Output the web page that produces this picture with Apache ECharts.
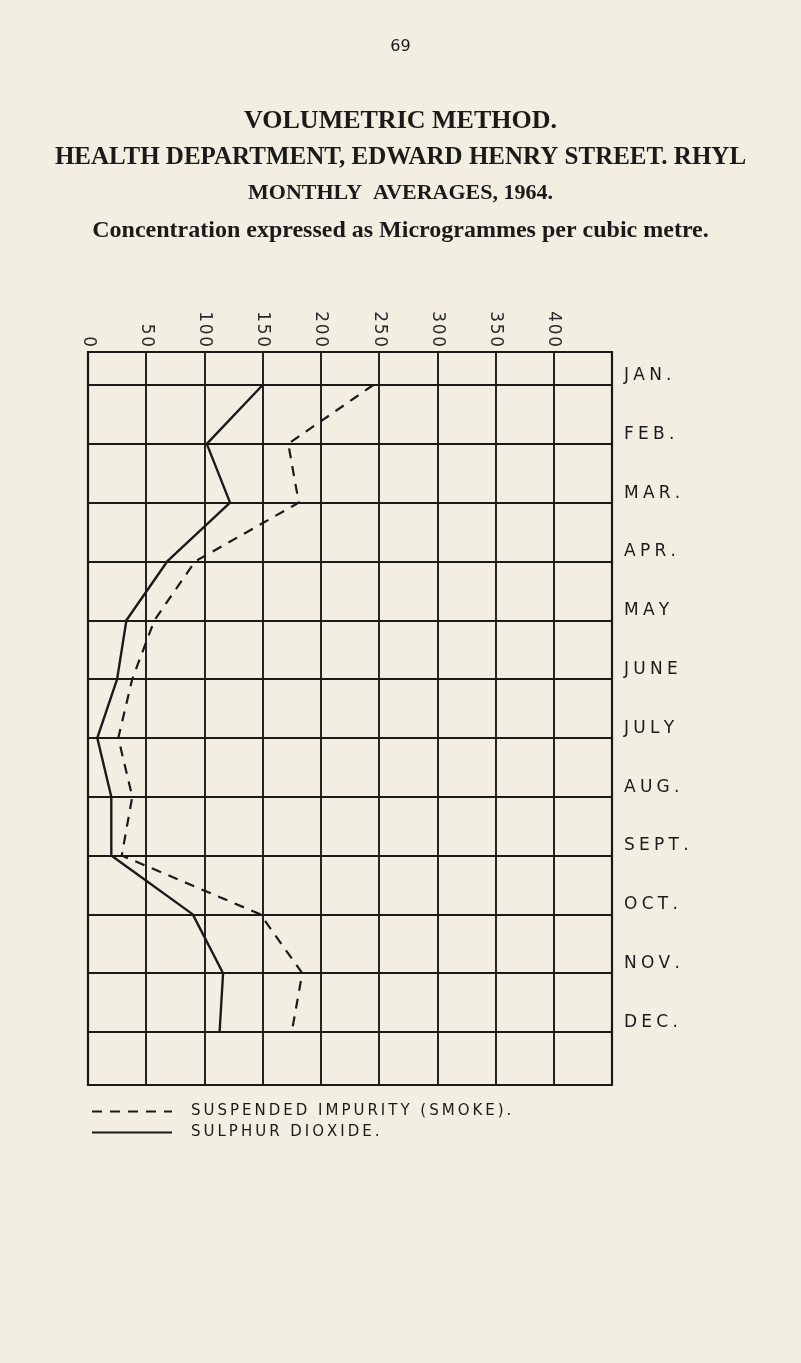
<!DOCTYPE html>
<html>
<head>
<meta charset="utf-8">
<script src="https://cdn.jsdelivr.net/npm/echarts@6/dist/echarts.min.js"></script>
<style>
html,body{margin:0;padding:0;background:#f2eee1;}
#chart{width:801px;height:1363px;}
</style>
</head>
<body>
<div id="chart"></div>
<script>
// ---- data (micrograms per cubic metre, monthly averages 1964) ----
const months = ['JAN.', 'FEB.', 'MAR.', 'APR.', 'MAY', 'JUNE', 'JULY', 'AUG.', 'SEPT.', 'OCT.', 'NOV.', 'DEC.'];
const smoke = [245, 172, 181, 92, 57, 38, 26, 38, 29, 148, 184, 175];
const sulphurDioxide = [150, 102, 122, 68, 33, 25, 8, 20, 20, 90, 116, 113];
const valueTicks = [0, 50, 100, 150, 200, 250, 300, 350, 400];
const seriesNames = ['SUSPENDED IMPURITY (SMOKE).', 'SULPHUR DIOXIDE.'];

const ink = '#1a1a1a';
const spaced = (s, sp) => s.split('').join(sp);
const chart = echarts.init(document.getElementById('chart'));

chart.setOption({
  backgroundColor: '#f2eee1',
  animation: false,
  title: [
    { text: '69', left: 'center', top: 34, textStyle: { fontFamily: 'DejaVu Sans', fontSize: 16, fontWeight: 'normal', color: ink } },
    { text: 'VOLUMETRIC METHOD.', left: 'center', top: 103, textStyle: { fontFamily: 'Liberation Serif', fontSize: 26, fontWeight: 'bold', color: ink } },
    { text: 'HEALTH DEPARTMENT, EDWARD HENRY STREET. RHYL', left: 'center', top: 140, textStyle: { fontFamily: 'Liberation Serif', fontSize: 25, fontWeight: 'bold', color: ink } },
    { text: 'MONTHLY  AVERAGES, 1964.', left: 'center', top: 177, textStyle: { fontFamily: 'Liberation Serif', fontSize: 22, fontWeight: 'bold', color: ink } },
    { text: 'Concentration expressed as Microgrammes per cubic metre.', left: 'center', top: 214, textStyle: { fontFamily: 'Liberation Serif', fontSize: 24, fontWeight: 'bold', color: ink } }
  ],
  legend: {
    orient: 'vertical',
    left: 86,
    top: 1099,
    itemWidth: 80,
    itemHeight: 12,
    itemGap: 6,
    itemStyle: { opacity: 0 },
    formatter: name => spaced(name, '\u2009'),
    textStyle: { fontFamily: 'DejaVu Sans', fontSize: 15, color: ink, padding: [0, 0, 0, 14] },
    data: seriesNames
  },
  grid: [
    { left: 88, right: 189, top: 352, bottom: 278, show: true, borderColor: ink, borderWidth: 2.2, backgroundColor: 'transparent' },
    { left: 88, right: 189, top: 385, bottom: 331 }
  ],
  xAxis: [
    {
      gridIndex: 0, type: 'value', position: 'top', min: 0, max: 450, interval: 50,
      axisLine: { show: false }, axisTick: { show: false },
      splitLine: { show: true, lineStyle: { color: ink, width: 1.9 } },
      axisLabel: {
        rotate: -90, margin: 5, fontFamily: 'DejaVu Sans', fontSize: 17, color: '#2a2a2a',
        formatter: v => valueTicks.indexOf(v) >= 0 ? spaced(String(v), '\u200a') : ''
      }
    },
    { gridIndex: 1, type: 'value', min: 0, max: 450, show: false }
  ],
  yAxis: [
    { gridIndex: 0, type: 'value', show: false, splitLine: { show: false } },
    {
      gridIndex: 1, type: 'category', data: months, inverse: true, boundaryGap: false,
      position: 'right',
      axisLine: { show: false }, axisTick: { show: false },
      splitLine: { show: true, lineStyle: { color: ink, width: 1.9 } },
      axisLabel: {
        margin: 12, fontFamily: 'DejaVu Sans', fontSize: 17, color: ink, verticalAlign: 'bottom', lineHeight: 19,
        formatter: v => spaced(v, '\u2005')
      }
    }
  ],
  series: [
    {
      name: seriesNames[0], type: 'line', xAxisIndex: 1, yAxisIndex: 1,
      symbol: 'none',
      lineStyle: { color: ink, width: 2.2, type: [10, 8] },
      itemStyle: { color: ink },
      data: months.map((m, i) => [smoke[i], m])
    },
    {
      name: seriesNames[1], type: 'line', xAxisIndex: 1, yAxisIndex: 1,
      symbol: 'none',
      lineStyle: { color: ink, width: 2.4 },
      itemStyle: { color: ink },
      data: months.map((m, i) => [sulphurDioxide[i], m])
    }
  ]
});
</script>
</body>
</html>
